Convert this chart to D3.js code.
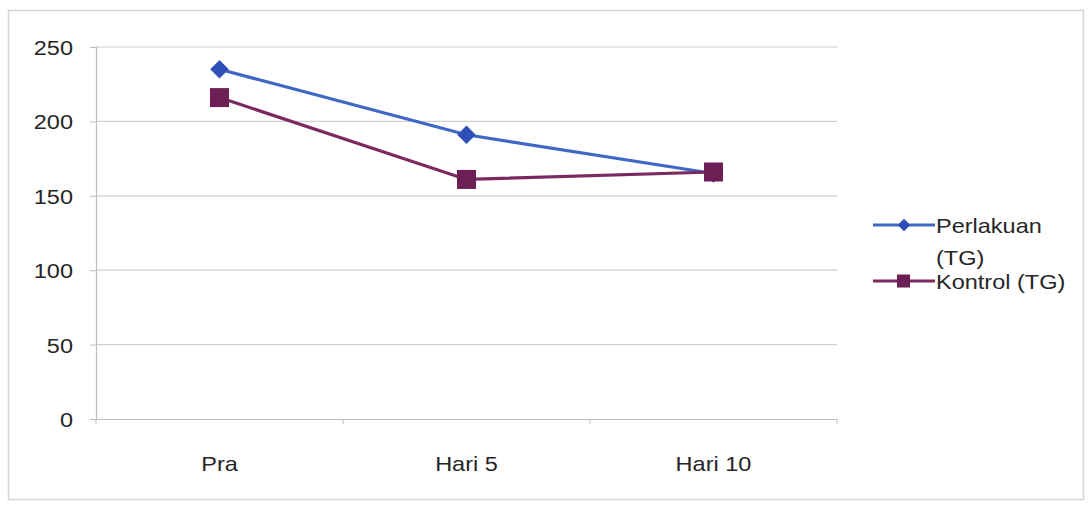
<!DOCTYPE html>
<html><head><meta charset="utf-8">
<script src="https://cdn.jsdelivr.net/npm/d3@7"></script>
<style>
body{margin:0;background:#fff;}
svg{display:block;font-family:"Liberation Sans",Arial,sans-serif;}
</style></head>
<body><svg id="c" width="1090" height="507"></svg>
<script>
const categories = ["Pra", "Hari 5", "Hari 10"];
const perlakuan = [235, 191, 165];
const kontrol = [216, 161, 166];
const yTicks = [0, 50, 100, 150, 200, 250];
const seriesNames = ["Perlakuan (TG)", "Kontrol (TG)"];

const svg = d3.select("#c");
const mLeft = 96, mRight = 837, mTop = 47, mBottom = 419;
const fs = 21, sx = 1.12, txt = "#262626";

svg.append("rect").attr("x", 8.5).attr("y", 10.5).attr("width", 1075).attr("height", 489)
  .attr("fill", "#fff").attr("stroke", "#d6d6d6").attr("stroke-width", 1.5);

const x = d3.scaleBand().domain(categories).range([mLeft, mRight]);
const y = d3.scaleLinear().domain([0, 250]).range([mBottom, mTop]);

// gridlines
svg.append("g").selectAll("line").data(yTicks.filter(d => d > 0)).join("line")
  .attr("x1", mLeft).attr("x2", mRight)
  .attr("y1", d => y(d)).attr("y2", d => y(d))
  .attr("stroke", "#cfcfcf").attr("stroke-width", 1.2);

// y axis
const gy = svg.append("g").attr("transform", `translate(${mLeft},0)`)
  .call(d3.axisLeft(y).tickValues(yTicks).tickSize(6).tickPadding(0));
gy.select(".domain").attr("stroke", "#bdbdbd").attr("stroke-width", 1.2);
gy.selectAll(".tick line").attr("stroke", "#bdbdbd");
gy.selectAll(".tick text").attr("font-size", fs).attr("fill", txt)
  .attr("font-family", "Liberation Sans, Arial, sans-serif")
  .attr("x", null).attr("dy", "0.36em")
  .attr("transform", `translate(-23,0) scale(${sx},1)`);

// x axis
const gx = svg.append("g").attr("transform", `translate(0,${mBottom})`)
  .call(d3.axisBottom(x).tickSize(0).tickPadding(0));
gx.select(".domain").attr("stroke", "#bdbdbd").attr("stroke-width", 1.2);
gx.selectAll(".tick text").attr("font-size", fs).attr("fill", txt)
  .attr("font-family", "Liberation Sans, Arial, sans-serif")
  .attr("y", null).attr("dy", null)
  .attr("transform", `translate(0,52) scale(${sx},1)`);
const bounds = [0, 1, 2, 3].map(i => mLeft + i * x.bandwidth());
svg.append("g").selectAll("line").data(bounds).join("line")
  .attr("x1", d => d).attr("x2", d => d)
  .attr("y1", mBottom).attr("y2", mBottom + 5)
  .attr("stroke", "#bdbdbd");

const line = d3.line().x((d, i) => x(categories[i]) + x.bandwidth() / 2).y(d => y(d));
const blue = "#3f68c6", blueM = "#2e4fb5";
const purple = "#7a2a5f", purpleM = "#6d1f55";

svg.append("path").datum(perlakuan).attr("d", line)
  .attr("fill", "none").attr("stroke", blue).attr("stroke-width", 3.2);
svg.append("path").datum(kontrol).attr("d", line)
  .attr("fill", "none").attr("stroke", purple).attr("stroke-width", 3.2);

const diamond = d3.symbol().type(d3.symbolDiamond2).size(220);
svg.append("g").selectAll("path").data(perlakuan).join("path")
  .attr("d", diamond)
  .attr("transform", (d, i) => `translate(${x(categories[i]) + x.bandwidth() / 2},${y(d)})`)
  .attr("fill", blueM);
svg.append("g").selectAll("rect").data(kontrol).join("rect")
  .attr("x", (d, i) => x(categories[i]) + x.bandwidth() / 2 - 9.5)
  .attr("y", d => y(d) - 9.5).attr("width", 19).attr("height", 19)
  .attr("fill", purpleM);

// legend
const lg = svg.append("g");
lg.append("line").attr("x1", 873).attr("x2", 935).attr("y1", 225).attr("y2", 225)
  .attr("stroke", blue).attr("stroke-width", 3);
lg.append("path").attr("d", d3.symbol().type(d3.symbolDiamond2).size(100))
  .attr("transform", "translate(904,225)").attr("fill", blueM);
lg.append("line").attr("x1", 873).attr("x2", 935).attr("y1", 281).attr("y2", 281)
  .attr("stroke", purple).attr("stroke-width", 3);
lg.append("rect").attr("x", 897).attr("y", 274.5).attr("width", 13).attr("height", 13)
  .attr("fill", purpleM);
const words = seriesNames[0].split(" ");
[[words[0], 233], [words[1], 265]].forEach(([t, yy]) =>
  lg.append("text").attr("transform", `translate(936,${yy}) scale(${sx},1)`)
    .attr("font-size", fs).attr("fill", txt).text(t));
lg.append("text").attr("transform", `translate(936,289) scale(${sx},1)`)
  .attr("font-size", fs).attr("fill", txt).text(seriesNames[1]);
</script></body></html>
